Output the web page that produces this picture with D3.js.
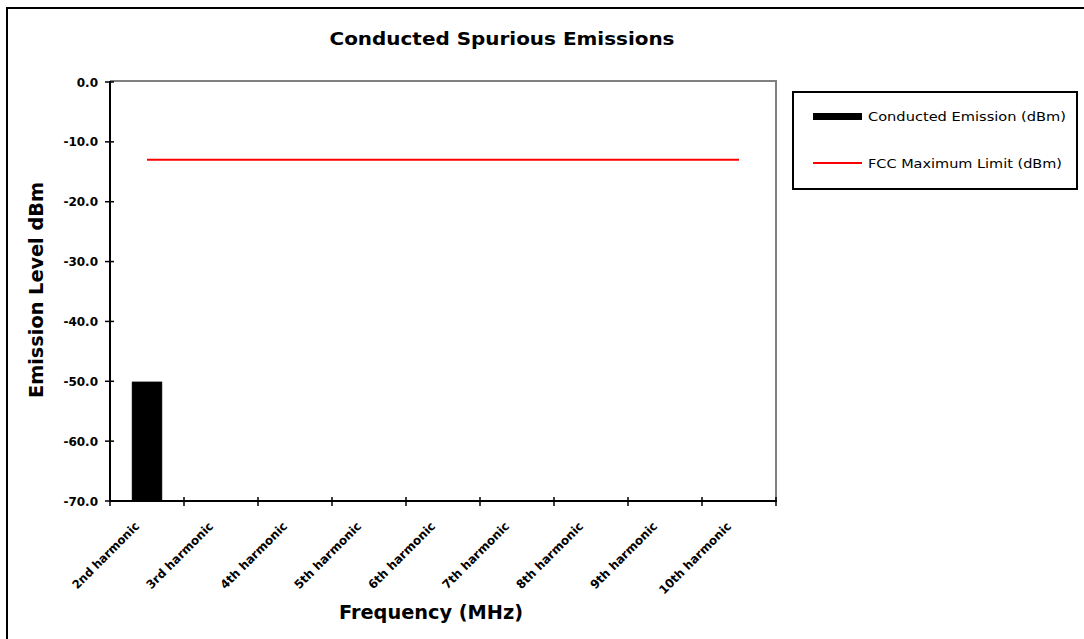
<!DOCTYPE html>
<html><head><meta charset="utf-8">
<script src="https://cdn.jsdelivr.net/npm/d3@7"></script>
<style>html,body{margin:0;padding:0;background:#fff;}svg{display:block;}</style>
</head><body>
<svg id="c" width="1084" height="639"></svg>
<script>
const categories = ["2nd harmonic","3rd harmonic","4th harmonic","5th harmonic","6th harmonic","7th harmonic","8th harmonic","9th harmonic","10th harmonic"];
const emission = [-50.1, null, null, null, null, null, null, null, null];
const fccLimit = [-13, -13, -13, -13, -13, -13, -13, -13, -13];
const yTicks = [0, -10, -20, -30, -40, -50, -60, -70];
const titleText = "Conducted Spurious Emissions";
const xTitle = "Frequency (MHz)";
const yTitle = "Emission Level dBm";
const legendLabels = ["Conducted Emission (dBm)", "FCC Maximum Limit (dBm)"];

const svg = d3.select("#c");
const L = 110, R = 776, T = 82, B = 501;
const x = d3.scaleBand().domain(categories).range([L, R]).paddingInner(0.595).paddingOuter(0.2975);
const y = d3.scaleLinear().domain([-70, 0]).range([B, T]);
const step = x.step();
const FONT = "'DejaVu Sans', Verdana, sans-serif";

// outer frame
svg.append("rect").attr("x", 7).attr("y", 8).attr("width", 1100).attr("height", 660)
  .attr("fill", "none").attr("stroke", "#000").attr("stroke-width", 2);

// plot border (top/right gray)
svg.append("path").attr("d", `M${L},${T - 1}H${R}V${B}`).attr("fill", "none")
  .attr("stroke", "#808080").attr("stroke-width", 2);

// bars
svg.append("g").selectAll("rect").data(categories.map((c, i) => ({c, v: emission[i]})).filter(d => d.v != null))
  .join("rect")
  .attr("x", d => x(d.c)).attr("width", x.bandwidth())
  .attr("y", d => y(d.v)).attr("height", d => y(-70) - y(d.v))
  .attr("fill", "#000").attr("stroke", "#222").attr("stroke-width", 0.5);

// FCC line
const line = d3.line().x((d, i) => x(categories[i]) + x.bandwidth() / 2).y(d => y(d));
svg.append("path").datum(fccLimit).attr("d", line).attr("fill", "none")
  .attr("stroke", "#ff0000").attr("stroke-width", 2);

// y axis
svg.append("line").attr("x1", L).attr("x2", L).attr("y1", T - 1).attr("y2", B)
  .attr("stroke", "#000").attr("stroke-width", 2);
const yg = svg.append("g");
yTicks.forEach(t => {
  yg.append("line").attr("x1", L - 5).attr("x2", L + 4).attr("y1", y(t)).attr("y2", y(t))
    .attr("stroke", "#000").attr("stroke-width", 1.5);
  yg.append("text").attr("x", 98).attr("y", y(t) + 4.5).attr("text-anchor", "end")
    .attr("font-family", FONT).attr("font-weight", "bold").attr("font-size", 12)
    .text(t.toFixed(1));
});

// x axis
svg.append("line").attr("x1", L - 1).attr("x2", R + 1).attr("y1", B).attr("y2", B)
  .attr("stroke", "#000").attr("stroke-width", 2);
const xg = svg.append("g");
const tickPos = categories.map(c => x(c) - step * x.paddingInner() / 2).concat([R]);
tickPos.forEach(p => {
  xg.append("line").attr("x1", p).attr("x2", p).attr("y1", B - 4).attr("y2", B + 5)
    .attr("stroke", "#000").attr("stroke-width", 1.5);
});
categories.forEach(c => {
  const cx = x(c) + x.bandwidth() / 2 - 7, cy = 527;
  xg.append("text").attr("transform", `translate(${cx},${cy}) rotate(-45)`)
    .attr("text-anchor", "end").attr("font-family", FONT).attr("font-size", 12)
    .attr("font-weight", "bold")
    .attr("textLength", c.length * 7.4).attr("lengthAdjust", "spacingAndGlyphs")
    .text(c);
});

// titles
svg.append("text").attr("x", 502).attr("y", 45).attr("text-anchor", "middle")
  .attr("font-family", FONT).attr("font-weight", "bold").attr("font-size", 17)
  .attr("textLength", 345).attr("lengthAdjust", "spacingAndGlyphs").text(titleText);
svg.append("text").attr("x", 339).attr("y", 619)
  .attr("font-family", FONT).attr("font-weight", "bold").attr("font-size", 19)
  .attr("textLength", 184).attr("lengthAdjust", "spacingAndGlyphs").text(xTitle);
svg.append("text").attr("transform", "translate(43,398) rotate(-90)")
  .attr("font-family", FONT).attr("font-weight", "bold").attr("font-size", 19)
  .attr("textLength", 216).attr("lengthAdjust", "spacingAndGlyphs").text(yTitle);

// legend
svg.append("rect").attr("x", 793).attr("y", 92).attr("width", 284).attr("height", 97)
  .attr("fill", "#fff").attr("stroke", "#000").attr("stroke-width", 2);
svg.append("rect").attr("x", 813).attr("y", 113).attr("width", 49).attr("height", 7).attr("fill", "#000");
svg.append("line").attr("x1", 813).attr("x2", 862).attr("y1", 163).attr("y2", 163)
  .attr("stroke", "#ff0000").attr("stroke-width", 2);
svg.append("text").attr("x", 868).attr("y", 121).attr("font-family", FONT).attr("font-size", 13)
  .attr("textLength", 198).attr("lengthAdjust", "spacingAndGlyphs").text(legendLabels[0]);
svg.append("text").attr("x", 868).attr("y", 168).attr("font-family", FONT).attr("font-size", 13)
  .attr("textLength", 194).attr("lengthAdjust", "spacingAndGlyphs").text(legendLabels[1]);
</script>
</body></html>
